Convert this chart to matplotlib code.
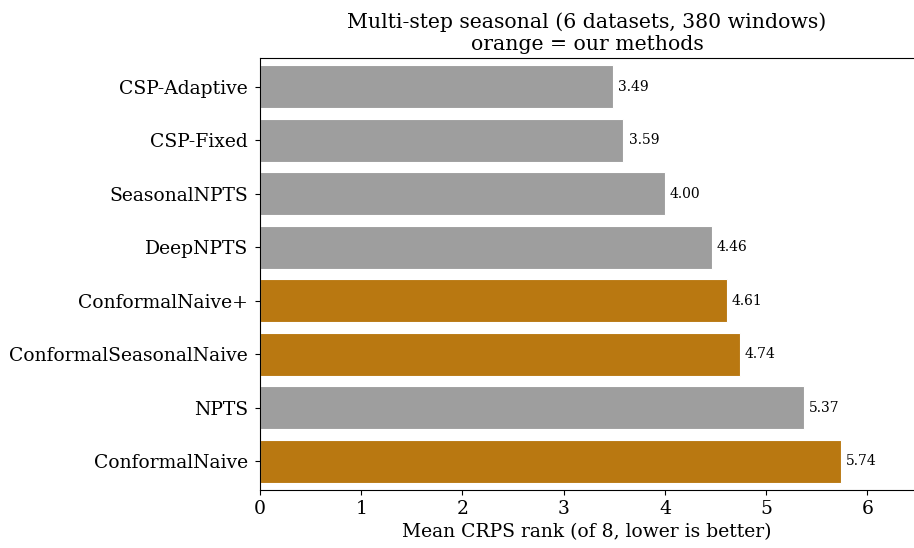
import matplotlib
matplotlib.use("Agg")
import matplotlib.pyplot as plt

plt.rcParams['font.family'] = ['DejaVu Serif']

methods = ["CSP-Adaptive", "CSP-Fixed", "SeasonalNPTS", "DeepNPTS",
           "ConformalNaive+", "ConformalSeasonalNaive", "NPTS", "ConformalNaive"]
mean_rank = [3.49, 3.59, 4.00, 4.46, 4.61, 4.74, 5.37, 5.74]
ours = [False, False, False, False, True, True, False, True]

GRAY = "#9e9e9e"
ORANGE = "#b97811"

fig = plt.figure(figsize=(9.14, 5.48), dpi=100)
ax = fig.add_axes([0.2845, 0.1058, 0.7155, 0.7886])

colors = [ORANGE if o else GRAY for o in ours]
ypos = list(range(len(methods)))
ax.barh(ypos, mean_rank, height=0.8, color=colors, edgecolor="white", linewidth=0.8)
for y, v in zip(ypos, mean_rank):
    ax.text(v + 0.05, y, f"{v:.2f}", va="center", ha="left", fontsize=10)

ax.set_yticks(ypos)
ax.set_yticklabels(methods, fontsize=13.5)
ax.tick_params(axis="y", pad=5)
ax.set_ylim(len(methods) - 0.46, -0.54)
ax.set_xlim(0, 6.46)
ax.spines["right"].set_visible(False)
ax.tick_params(axis="x", labelsize=13.5)
ax.set_xlabel("Mean CRPS rank (of 8, lower is better)", fontsize=13.5)
ax.set_title("Multi-step seasonal (6 datasets, 380 windows)\norange = our methods", fontsize=14.7)

fig.savefig("out.png", dpi=100)
